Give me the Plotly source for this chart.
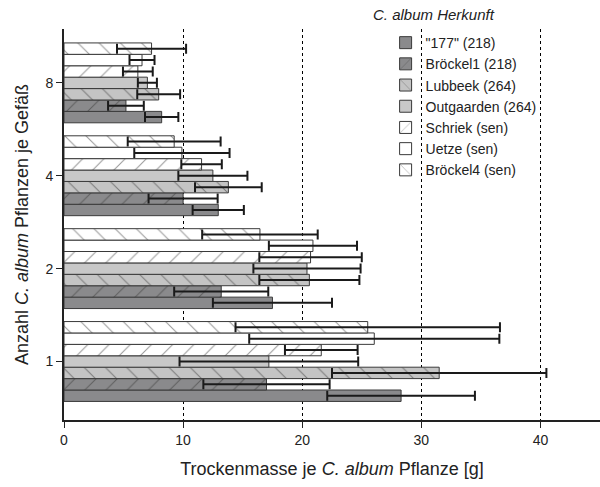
import plotly.graph_objects as go

categories = ["1", "2", "4", "8"]
series_names = ['"177" (218)', 'Bröckel1 (218)', 'Lubbeek (264)', 'Outgaarden (264)',
                'Schriek (sen)', 'Uetze (sen)', 'Bröckel4 (sen)']

v_177 = [28.3, 17.5, 12.95, 8.2]
e_177 = [6.2, 5.0, 2.15, 1.4]
v_broeckel1 = [17.0, 13.2, 10.0, 5.2]
e_broeckel1 = [5.3, 3.95, 2.9, 1.5]
v_lubbeek = [31.5, 20.6, 13.8, 7.95]
e_lubbeek = [9.0, 4.2, 2.8, 1.8]
v_outgaarden = [17.2, 20.4, 12.5, 7.0]
e_outgaarden = [7.5, 4.5, 2.9, 0.8]
v_schriek = [21.6, 20.7, 11.55, 6.2]
e_schriek = [3.05, 4.3, 1.7, 1.25]
v_uetze = [26.05, 20.9, 9.9, 6.55]
e_uetze = [10.5, 3.7, 4.0, 1.05]
v_broeckel4 = [25.5, 16.45, 9.25, 7.35]
e_broeckel4 = [11.1, 4.85, 3.9, 2.9]

values = [v_177, v_broeckel1, v_lubbeek, v_outgaarden, v_schriek, v_uetze, v_broeckel4]
errors = [e_177, e_broeckel1, e_lubbeek, e_outgaarden, e_schriek, e_uetze, e_broeckel4]

fills = ["#8a8a8c", "#8a8a8c", "#c4c4c4", "#c8c8c8", "#ffffff", "#ffffff", "#ffffff"]
patterns = ["", "/", "\\", "", "/", "", "\\"]

FONT = "Liberation Sans, Arial, sans-serif"

fig = go.Figure()
for name, v, e, c, p in zip(series_names, values, errors, fills, patterns):
    fig.add_trace(go.Bar(
        y=categories, x=v, name=name, orientation="h",
        marker=dict(color=c, line=dict(color="#3a3a3a", width=1),
                    pattern=dict(shape=p, fgcolor="#333333", bgcolor=c,
                                 size=15, solidity=0.07, fillmode="overlay")),
        error_x=dict(type="data", array=e, visible=True, color="#1a1a1a",
                     thickness=2, width=5),
    ))

fig.update_layout(
    width=600, height=487,
    margin=dict(l=64, r=0, t=29, b=67),
    paper_bgcolor="white", plot_bgcolor="white",
    barmode="group", bargap=0.14, bargroupgap=0,
    font=dict(family=FONT, size=14, color="#222222"),
    showlegend=True,
    legend=dict(x=0.6, xanchor="left", y=1.005, yanchor="top",
                bgcolor="rgba(0,0,0,0)", font=dict(size=14),
                tracegroupgap=0, traceorder="normal"),
    xaxis=dict(range=[0, 45], tickvals=[0, 10, 20, 30, 40], showgrid=True,
               gridcolor="#000000", griddash="dot", gridwidth=1, zeroline=False,
               showline=True, linecolor="#222222", linewidth=1.5,
               ticks="outside", ticklen=6, tickcolor="#222222",
               tickfont=dict(size=14),
               title=dict(text="Trockenmasse je <i>C. album</i> Pflanze [g]",
                          font=dict(size=18), standoff=16)),
    yaxis=dict(type="category", categoryarray=categories, range=[-0.63, 3.58],
               showgrid=False, zeroline=False, showline=True, linecolor="#222222",
               linewidth=2, ticks="outside", ticklen=6, tickcolor="#222222",
               tickfont=dict(size=14),
               title=dict(text="Anzahl <i>C. album</i> Pflanzen je Gefäß",
                          font=dict(size=18), standoff=12)),
    annotations=[dict(text="<i>C. album Herkunft</i>", xref="paper", yref="paper",
                      x=0.69, y=1.036, xanchor="center", yanchor="middle",
                      showarrow=False, font=dict(size=15))],
)

fig.write_html("out.html")
